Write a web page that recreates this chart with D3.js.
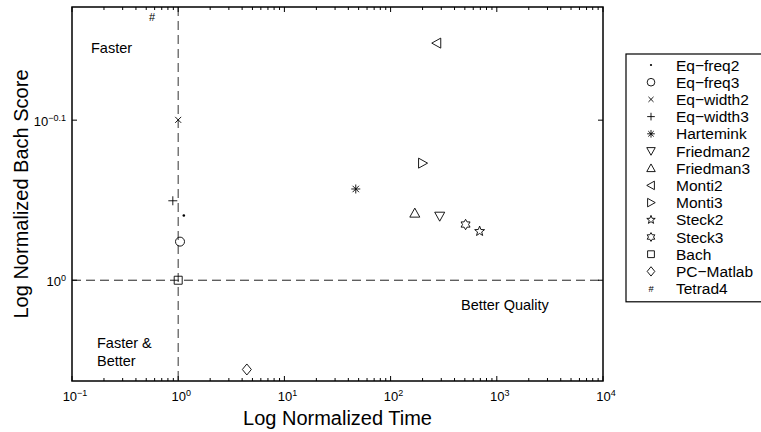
<!DOCTYPE html>
<meta charset="utf-8">
<style>
  body { margin: 0; background: #fff; }
  svg text { font-family: "Liberation Sans", Arial, Helvetica, sans-serif; fill: #000; }
</style>
<script src="https://d3js.org/d3.v7.min.js"></script>
<div id="chart"></div>
<script>

// data
var methods = ["Eq\u2212freq2", "Eq\u2212freq3", "Eq\u2212width2", "Eq\u2212width3", "Hartemink",
               "Friedman2", "Friedman3", "Monti2", "Monti3", "Steck2", "Steck3", "Bach",
               "PC\u2212Matlab", "Tetrad4"];
var timeValues  = [1.13, 1.04, 1.0, 0.89, 47, 290, 169, 272, 200, 689, 508, 1.0, 4.43, 0.566];
var scoreValues = [0.911, 0.946, 0.794, 0.892, 0.877, 0.912, 0.908, 0.711, 0.845, 0.932, 0.923, 1.0, 1.137, 0.685];
var markers = [".", "o", "x", "+", "*", "v", "^", "<", ">", "p", "h", "s", "d", "#"];

var xTicks = [0.1, 1, 10, 100, 1000, 10000];
var xTickExp = ["\u22121", "0", "1", "2", "3", "4"];
var yTicks = [Math.pow(10, -0.1), 1];
var yTickExp = ["\u22120.1", "0"];

var W = 761, H = 432;
var box = {left: 72, top: 7, right: 603, bottom: 381};

var svg = d3.select("#chart").append("svg")
    .attr("width", W)
    .attr("height", H);

var x = d3.scaleLog().domain([0.1, 10000]).range([box.left, box.right]);
// y runs downward: smaller scores at the top
var y = d3.scaleLog().domain([0.675, 1.156]).range([box.top, box.bottom]);

// marker shapes, MATLAB style
function markerPath(t) {
  var p = d3.path();
  if (t === "o") { p.moveTo(4.5, 0); p.arc(0, 0, 4.5, 0, 2 * Math.PI); }
  else if (t === "x") { p.moveTo(-3, -3); p.lineTo(3, 3); p.moveTo(-3, 3); p.lineTo(3, -3); }
  else if (t === "+") { p.moveTo(-4.5, 0); p.lineTo(4.5, 0); p.moveTo(0, -4.5); p.lineTo(0, 4.5); }
  else if (t === "*") {
    p.moveTo(-4.5, 0); p.lineTo(4.5, 0); p.moveTo(0, -4.5); p.lineTo(0, 4.5);
    p.moveTo(-3.2, -3.2); p.lineTo(3.2, 3.2); p.moveTo(-3.2, 3.2); p.lineTo(3.2, -3.2);
  }
  else if (t === "v") { p.moveTo(-5, -4); p.lineTo(5, -4); p.lineTo(0, 5); p.closePath(); }
  else if (t === "^") { p.moveTo(-5, 4); p.lineTo(5, 4); p.lineTo(0, -5); p.closePath(); }
  else if (t === "<") { p.moveTo(4, -5); p.lineTo(4, 5); p.lineTo(-5, 0); p.closePath(); }
  else if (t === ">") { p.moveTo(-4, -5); p.lineTo(-4, 5); p.lineTo(5, 0); p.closePath(); }
  else if (t === "s") { p.rect(-4, -4, 8, 8); }
  else if (t === "d") { p.moveTo(0, -5.5); p.lineTo(4.5, 0); p.lineTo(0, 5.5); p.lineTo(-4.5, 0); p.closePath(); }
  else if (t === "p" || t === "h") {
    var n = t === "p" ? 5 : 6, ro = 5.2, ri = t === "p" ? 2.2 : 3.0;
    for (var k = 0; k < 2 * n; k++) {
      var a = -Math.PI / 2 + k * Math.PI / n, r = k % 2 ? ri : ro;
      if (k === 0) p.moveTo(r * Math.cos(a), r * Math.sin(a));
      else p.lineTo(r * Math.cos(a), r * Math.sin(a));
    }
    p.closePath();
  }
  return p.toString();
}

function drawMarker(g, t) {
  if (t === ".") {
    g.append("circle").attr("r", 1.3).attr("fill", "#000");
  } else if (t === "#") {
    g.append("text").attr("text-anchor", "middle").attr("dy", "0.35em")
      .style("font-size", "11px").text("#");
  } else {
    g.append("path").attr("d", markerPath(t))
      .attr("fill", "none").attr("stroke", "#000").attr("stroke-width", 0.9)
      .attr("vector-effect", "non-scaling-stroke");
  }
}

// reference lines at time = 1 and score = 1
svg.append("line")
    .attr("x1", x(1)).attr("x2", x(1))
    .attr("y1", box.top).attr("y2", box.bottom)
    .attr("stroke", "#555").attr("stroke-width", 1.2).attr("stroke-dasharray", "9,5");
svg.append("line")
    .attr("x1", box.left).attr("x2", box.right)
    .attr("y1", y(1)).attr("y2", y(1))
    .attr("stroke", "#222").attr("stroke-width", 1).attr("stroke-dasharray", "9,5");

// points
methods.forEach(function(m, i) {
  var g = svg.append("g")
      .attr("transform", "translate(" + x(timeValues[i]) + "," + y(scoreValues[i]) + ")");
  drawMarker(g, markers[i]);
});

// frame
svg.append("rect")
    .attr("x", box.left).attr("y", box.top)
    .attr("width", box.right - box.left).attr("height", box.bottom - box.top)
    .attr("fill", "none").attr("stroke", "#000").attr("stroke-width", 1.5);

// x ticks (major and minor), inward, top and bottom
var ticks = svg.append("g").attr("stroke", "#000").attr("stroke-width", 1);
x.ticks().forEach(function(v) {
  var major = xTicks.some(function(t) { return Math.abs(t - v) / t < 1e-6; });
  var len = major ? 5 : 3;
  var px = x(v);
  ticks.append("line").attr("x1", px).attr("x2", px).attr("y1", box.bottom).attr("y2", box.bottom - len);
  ticks.append("line").attr("x1", px).attr("x2", px).attr("y1", box.top).attr("y2", box.top + len);
});
yTicks.forEach(function(v) {
  ticks.append("line").attr("x1", box.left).attr("x2", box.left + 5).attr("y1", y(v)).attr("y2", y(v));
  ticks.append("line").attr("x1", box.right).attr("x2", box.right - 5).attr("y1", y(v)).attr("y2", y(v));
});

// tick labels: 10 with superscript
xTicks.forEach(function(v, i) {
  var t = svg.append("text")
      .attr("x", x(v) + 3).attr("y", box.bottom + 20)
      .attr("text-anchor", "middle")
      .style("font-size", "13px");
  t.append("tspan").text("10");
  t.append("tspan").attr("dy", "-0.55em").style("font-size", "9px").text(xTickExp[i]);
});
yTicks.forEach(function(v, i) {
  var t = svg.append("text")
      .attr("x", box.left - 6).attr("y", y(v) + 6)
      .attr("text-anchor", "end")
      .style("font-size", "13px");
  t.append("tspan").text("10");
  t.append("tspan").attr("dy", "-0.55em").style("font-size", "9px").text(yTickExp[i]);
});

// axis titles
svg.append("text")
    .attr("x", (box.left + box.right) / 2).attr("y", 425)
    .attr("text-anchor", "middle")
    .style("font-size", "20px")
    .text("Log Normalized Time");
svg.append("text")
    .attr("transform", "translate(28," + ((box.top + box.bottom) / 2) + ")rotate(-90)")
    .attr("text-anchor", "middle")
    .style("font-size", "20px")
    .text("Log Normalized Bach Score");

// region notes
svg.append("text").attr("x", 91).attr("y", 53).style("font-size", "14.5px").text("Faster");
svg.append("text").attr("x", 97).attr("y", 348).style("font-size", "14.5px").text("Faster &");
svg.append("text").attr("x", 97).attr("y", 366).style("font-size", "14.5px").text("Better");
svg.append("text").attr("x", 461).attr("y", 310).style("font-size", "14.5px").text("Better Quality");

// legend
var lg = svg.append("g");
var rowH = 17.2, lgTop = 54;
lg.append("rect")
    .attr("x", 626).attr("y", lgTop)
    .attr("width", 160).attr("height", methods.length * rowH + 7)
    .attr("fill", "#fff").attr("stroke", "#000").attr("stroke-width", 1.2);
methods.forEach(function(m, i) {
  var cy = lgTop + 11 + i * rowH;
  var g = lg.append("g").attr("transform", "translate(651," + cy + ")scale(0.85)");
  drawMarker(g, markers[i]);
  lg.append("text").attr("x", 676).attr("y", cy + 5.5)
    .style("font-size", "15.5px").text(m);
});

</script>
